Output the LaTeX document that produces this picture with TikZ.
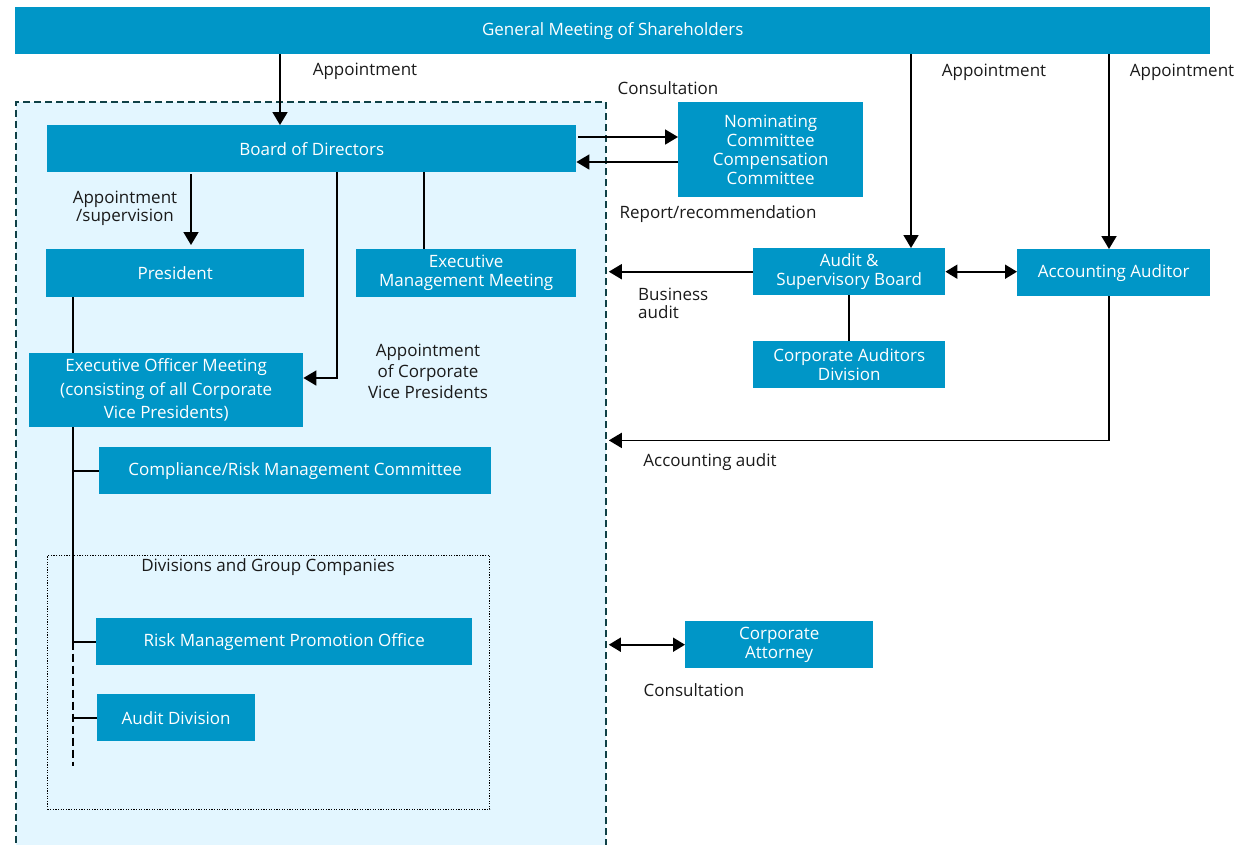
\documentclass[tikz,border=0pt]{standalone}
\usepackage{fontspec}
\setmainfont{Open Sans}
\usetikzlibrary{arrows.meta,calc}
\definecolor{boxblue}{HTML}{0096C7}
\definecolor{zonefill}{HTML}{E3F6FF}
\definecolor{zoneline}{HTML}{0F4146}
\definecolor{labelink}{HTML}{1A1A1A}
\begin{document}
\begin{tikzpicture}[x=1pt,y=-1pt,
  box/.style={fill=boxblue,text=white,inner sep=0pt,align=center,anchor=north west,
              font=\fontsize{17}{19}\selectfont},
  lbl/.style={text=labelink,inner sep=0pt,align=center,font=\fontsize{17}{18}\selectfont},
  conn/.style={line width=1.8pt,black},
  arr/.style={conn,-{Triangle[length=13pt,width=15pt]}},
  darr/.style={conn,{Triangle[length=12pt,width=14pt]}-{Triangle[length=12pt,width=14pt]}},
  zone/.style={draw=zoneline,fill=zonefill,line width=1.8pt,dash pattern=on 7pt off 4pt,
               anchor=north west,inner sep=0pt},
  divbox/.style={draw=black,dash pattern=on 1.2pt off 1.4pt,line width=1.3pt,anchor=north west,inner sep=0pt},
]
\useasboundingbox (0,0) rectangle (1236,844);

% internal organisation zone (open towards the bottom of the page)
\node[zone,minimum width=590pt,minimum height=770pt] (zone) at (15,101) {};
\node[divbox,minimum width=442pt,minimum height=254pt] (divs) at (47,555) {};
\node[lbl,anchor=north] (divlbl) at (268,558) {Divisions and Group Companies};

% boxes
\node[box,minimum width=1195pt,minimum height=47pt] (gm) at (15,7) {General Meeting of Shareholders};
\node[box,minimum width=529pt,minimum height=47pt] (bod) at (47,125) {Board of Directors};
\node[box,minimum width=185pt,minimum height=95pt] (nom) at (678,102)
  {Nominating\\Committee\\Compensation\\Committee};
\node[box,minimum width=258pt,minimum height=48pt] (pres) at (46,249) {President};
\node[box,minimum width=220pt,minimum height=48pt] (emm) at (356,249) {Executive\\Management Meeting};
\node[box,minimum width=274pt,minimum height=74pt,font=\fontsize{17}{23.5}\selectfont] (eom) at (29,353)
  {Executive Officer Meeting\\(consisting of all Corporate\\Vice Presidents)};
\node[box,minimum width=392pt,minimum height=47pt] (comp) at (99,447) {Compliance/Risk Management Committee};
\node[box,minimum width=376pt,minimum height=47pt] (risk) at (96,618) {Risk Management Promotion Office};
\node[box,minimum width=158pt,minimum height=47pt] (audit) at (97,694) {Audit Division};
\node[box,minimum width=192pt,minimum height=47pt] (asb) at (753,248) {Audit \&\\Supervisory Board};
\node[box,minimum width=193pt,minimum height=47pt] (aa) at (1017,249) {Accounting Auditor};
\node[box,minimum width=192pt,minimum height=47pt] (cad) at (753,341) {Corporate Auditors\\Division};
\node[box,minimum width=188pt,minimum height=47pt] (att) at (685,621) {Corporate\\Attorney};

% connector attachment points
\coordinate (bodIn) at ([xshift=233pt]bod.north west);
\coordinate (presIn) at ([xshift=145pt]pres.north west);
\coordinate (emmIn) at ([xshift=68pt]emm.north west);
\coordinate (bodOut) at ([xshift=290pt]bod.south west);
\coordinate (eomIn) at ([yshift=-25pt]eom.north east);
\coordinate (presOut) at ([xshift=27pt]pres.south west);
\coordinate (spine) at ([xshift=44pt]eom.south west);
\coordinate (spineEnd) at ([yshift=-25pt]audit.south west);
\coordinate (nomIn) at ([yshift=-35pt]nom.north west);
\coordinate (nomOut) at ([yshift=-60pt]nom.north west);
\coordinate (asbIn) at ([xshift=158pt]asb.north west);
\coordinate (aaIn) at ([xshift=92pt]aa.north west);
\coordinate (aaOut) at ([xshift=92pt]aa.south west);
\coordinate (acctBend) at ([yshift=-144pt]aaOut);

% appointments from the general meeting
\draw[arr] (gm.south -| bodIn) -- (bodIn);
\draw[arr] (gm.south -| asbIn) -- (asbIn);
\draw[arr] (gm.south -| aaIn) -- (aaIn);

% board and committees
\draw[arr] ([xshift=2pt]bod.east |- nomIn) -- (nomIn);
\draw[arr] (nomOut) -- (bod.east |- nomOut);

% executive line
\draw[arr,shorten <=2pt,shorten >=4pt] (bod.south -| presIn) -- (presIn);
\draw[conn] (bod.south -| emmIn) -- (emmIn);
\draw[arr] (bodOut) |- (eomIn);
\draw[conn] (presOut) -- (eom.north -| presOut);
\draw[conn] (spine) |- (risk.west);
\draw[conn] (spine |- comp.west) -- (comp.west);
\draw[conn,dash pattern=on 8pt off 4pt] (spine |- risk.west) -- (spine |- spineEnd);
\draw[conn] (spine |- audit.west) -- (audit.west);

% audit side
\draw[darr] (asb.east) -- (aa.west |- asb.east);
\draw[arr] (asb.west) -- ([xshift=2pt]asb.west -| zone.east);
\draw[conn] (asb.south) -- (cad.north);
\draw[arr] (aaOut) -- (acctBend) -- ([xshift=2pt]acctBend -| zone.east);
\draw[darr] ([xshift=2pt]zone.east |- att.west) -- (att.west);

% labels
\node[lbl] (l1) at (365,71) {Appointment};
\node[lbl] (l2) at (994,72) {Appointment};
\node[lbl] (l3) at (1182,72) {Appointment};
\node[lbl] (l4) at (668,88) {Consultation};
\node[lbl] (l5) at (718,214) {Report/recommendation};
\node[lbl] (l6) at (125,208) {Appointment\\/supervision};
\node[lbl,font=\fontsize{17}{21}\selectfont] (l7) at (428,371) {Appointment\\of Corporate\\Vice Presidents};
\node[lbl,align=left,anchor=west] (l8) at (638,303) {Business\\audit};
\node[lbl] (l9) at (710,462) {Accounting audit};
\node[lbl] (l10) at (694,690) {Consultation};
\end{tikzpicture}
\end{document}
